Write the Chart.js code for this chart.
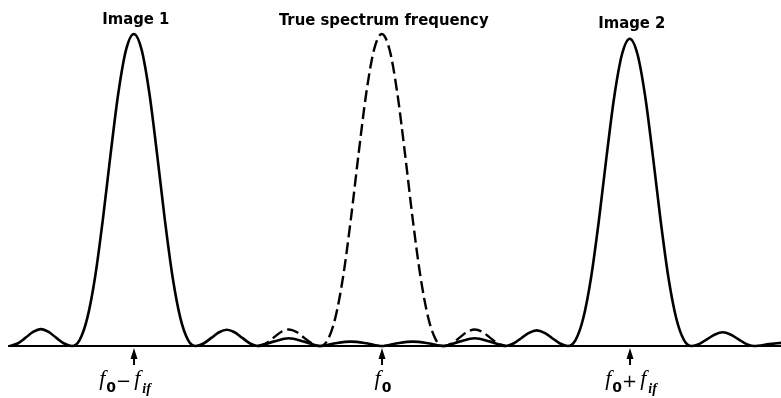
<!DOCTYPE html>
<html lang="en">
<head>
  <meta charset="UTF-8">
  <title>Image frequencies</title>
  <script src="https://cdn.jsdelivr.net/npm/chart.js"></script>
  <style>
    html, body { margin: 0; padding: 0; background: #fff; }
    #wrap { width: 781px; height: 398px; position: relative; }
  </style>
</head>
<body>
  <div id="wrap"><canvas id="grafico"></canvas></div>

  <script>
    // frequency axis in units of the response zero spacing, f0 = 0
    const xs = [-6, -5.875, -5.75, -5.625, -5.5, -5.375, -5.25, -5.125, -5,
      -4.875, -4.75, -4.625, -4.5, -4.375, -4.25, -4.125, -4,
      -3.875, -3.75, -3.625, -3.5, -3.375, -3.25, -3.125, -3,
      -2.875, -2.75, -2.625, -2.5, -2.375, -2.25, -2.125, -2,
      -1.75, -1.5, -1.25, -1, -0.75, -0.5, -0.25, 0, 0.25, 0.5, 0.75, 1,
      1.25, 1.5, 1.75, 2, 2.125, 2.25, 2.375, 2.5, 2.625, 2.75, 2.875, 3,
      3.125, 3.25, 3.375, 3.5, 3.625, 3.75, 3.875, 4,
      4.125, 4.25, 4.375, 4.5, 4.625, 4.75, 4.875, 5,
      5.125, 5.25, 5.375, 5.5, 5.625, 5.75, 5.875, 6, 6.25, 6.44];
    // received response (both images), relative amplitude
    const imageResp = [0, 0.008, 0.026, 0.045, 0.054, 0.045, 0.026, 0.008, 0,
      0.019, 0.090, 0.221, 0.405, 0.615, 0.811, 0.950, 1.0,
      0.950, 0.811, 0.615, 0.405, 0.221, 0.090, 0.019, 0,
      0.008, 0.026, 0.044, 0.052, 0.044, 0.026, 0.008, 0,
      0.014, 0.025, 0.014, 0, 0.009, 0.014, 0.009, 0, 0.009, 0.014, 0.009, 0,
      0.014, 0.025, 0.014, 0, 0.008, 0.025, 0.042, 0.050, 0.042, 0.025, 0.008, 0,
      0.019, 0.089, 0.218, 0.399, 0.606, 0.799, 0.935, 0.985,
      0.935, 0.799, 0.606, 0.399, 0.218, 0.089, 0.019, 0,
      0.007, 0.022, 0.037, 0.044, 0.037, 0.022, 0.007, 0, 0.006, 0.010];

    // true spectrum (dashed)
    const trueX = [-2, -1.875, -1.75, -1.625, -1.5, -1.375, -1.25, -1.125, -1, -0.875, -0.75, -0.625, -0.5,
      -0.375, -0.25, -0.125, 0, 0.125, 0.25, 0.375, 0.5, 0.625, 0.75, 0.875, 1,
      1.125, 1.25, 1.375, 1.5, 1.625, 1.75, 1.875, 2];
    const trueResp = [0, 0.008, 0.026, 0.045, 0.053, 0.045, 0.026, 0.008, 0, 0.019, 0.090, 0.221, 0.405,
      0.615, 0.811, 0.950, 1.0, 0.950, 0.811, 0.615, 0.405, 0.221, 0.090, 0.019, 0,
      0.008, 0.026, 0.045, 0.053, 0.045, 0.026, 0.008, 0];

    const peakX = [-4, 0, 4];
    const peakLabels = ['Image 1', 'True spectrum frequency', 'Image 2'];
    const peakLabelY = [24, 25, 28];
    const arrowX = [-4, 0, 4];
    const arrowSign = ['\u2212', '', '+'];
    const arrowLabelShift = [-9, 1, 1];

    const toPts = (a, b) => a.map((x, i) => ({ x: x, y: b[i] }));

    const labelPlugin = {
      id: 'labels',
      beforeDatasetsDraw(chart) {
        const ctx = chart.ctx;
        const y0 = chart.scales.y.getPixelForValue(0);
        ctx.save();
        ctx.strokeStyle = '#000';
        ctx.lineWidth = 2;
        ctx.beginPath();
        ctx.moveTo(chart.chartArea.left, y0);
        ctx.lineTo(chart.chartArea.right, y0);
        ctx.stroke();
        ctx.restore();
      },
      afterDatasetsDraw(chart) {
        const ctx = chart.ctx;
        const sx = chart.scales.x, sy = chart.scales.y;
        const y0 = sy.getPixelForValue(0);
        ctx.save();
        ctx.fillStyle = '#000';
        ctx.strokeStyle = '#000';
        ctx.font = 'bold 16.5px "DejaVu Sans Condensed", "DejaVu Sans", sans-serif';
        ctx.textAlign = 'center';
        ctx.textBaseline = 'alphabetic';
        peakLabels.forEach((t, i) => {
          ctx.fillText(t, sx.getPixelForValue(peakX[i]) + 2, peakLabelY[i]);
        });

        // arrows and f labels under the axis
        arrowX.forEach((v, i) => {
          const px = Math.round(sx.getPixelForValue(v));
          ctx.lineWidth = 2;
          ctx.beginPath();
          ctx.moveTo(px, y0 + 6);
          ctx.lineTo(px, y0 + 19);
          ctx.stroke();
          ctx.beginPath();
          ctx.moveTo(px, y0 + 2);
          ctx.lineTo(px - 3.5, y0 + 13);
          ctx.lineTo(px + 3.5, y0 + 13);
          ctx.closePath();
          ctx.fill();

          // label pieces: f, sub 0, sign, f, sub if
          const big = 'italic 22px "Liberation Serif", serif';
          const sub = 'bold 14px "DejaVu Sans", sans-serif';
          const subIt = 'italic bold 14px "Liberation Serif", serif';
          const sign = '18px "DejaVu Sans", sans-serif';
          const parts = [[big, 'f', 0, 1], [sub, '0', 7, 0]];
          if (arrowSign[i]) {
            parts.push([sign, arrowSign[i], 2, 3]);
            parts.push([big, 'f', 0, 2]);
            parts.push([subIt, 'if', 8, 0]);
          }
          let w = 0;
          parts.forEach(p => { ctx.font = p[0]; w += ctx.measureText(p[1]).width + p[3]; });
          let cx = px - w / 2 + arrowLabelShift[i];
          ctx.textAlign = 'left';
          const base = y0 + 39;
          parts.forEach(p => {
            ctx.font = p[0];
            ctx.fillText(p[1], cx, base + p[2]);
            cx += ctx.measureText(p[1]).width + p[3];
          });
          ctx.textAlign = 'center';
        });
        ctx.restore();
      }
    };

    new Chart(document.getElementById('grafico'), {
      type: 'line',
      data: {
        datasets: [
          {
            label: 'Image response',
            data: toPts(xs, imageResp),
            borderColor: '#000',
            borderWidth: 2.6,
            pointRadius: 0,
            cubicInterpolationMode: 'monotone',
            fill: false,
            clip: false
          },
          {
            label: 'True spectrum',
            data: toPts(trueX, trueResp),
            borderColor: '#000',
            borderWidth: 2.4,
            borderDash: [12, 5],
            pointRadius: 0,
            cubicInterpolationMode: 'monotone',
            fill: false,
            clip: false
          }
        ]
      },
      options: {
        responsive: true,
        maintainAspectRatio: false,
        animation: false,
        layout: { padding: { left: 8, right: 0, top: 34, bottom: 52 } },
        plugins: { legend: { display: false }, tooltip: { enabled: false } },
        scales: {
          x: { type: 'linear', min: -6.03, max: 6.44, display: false },
          y: { type: 'linear', min: 0, max: 1, display: false }
        }
      },
      plugins: [labelPlugin]
    });
  </script>
</body>
</html>
